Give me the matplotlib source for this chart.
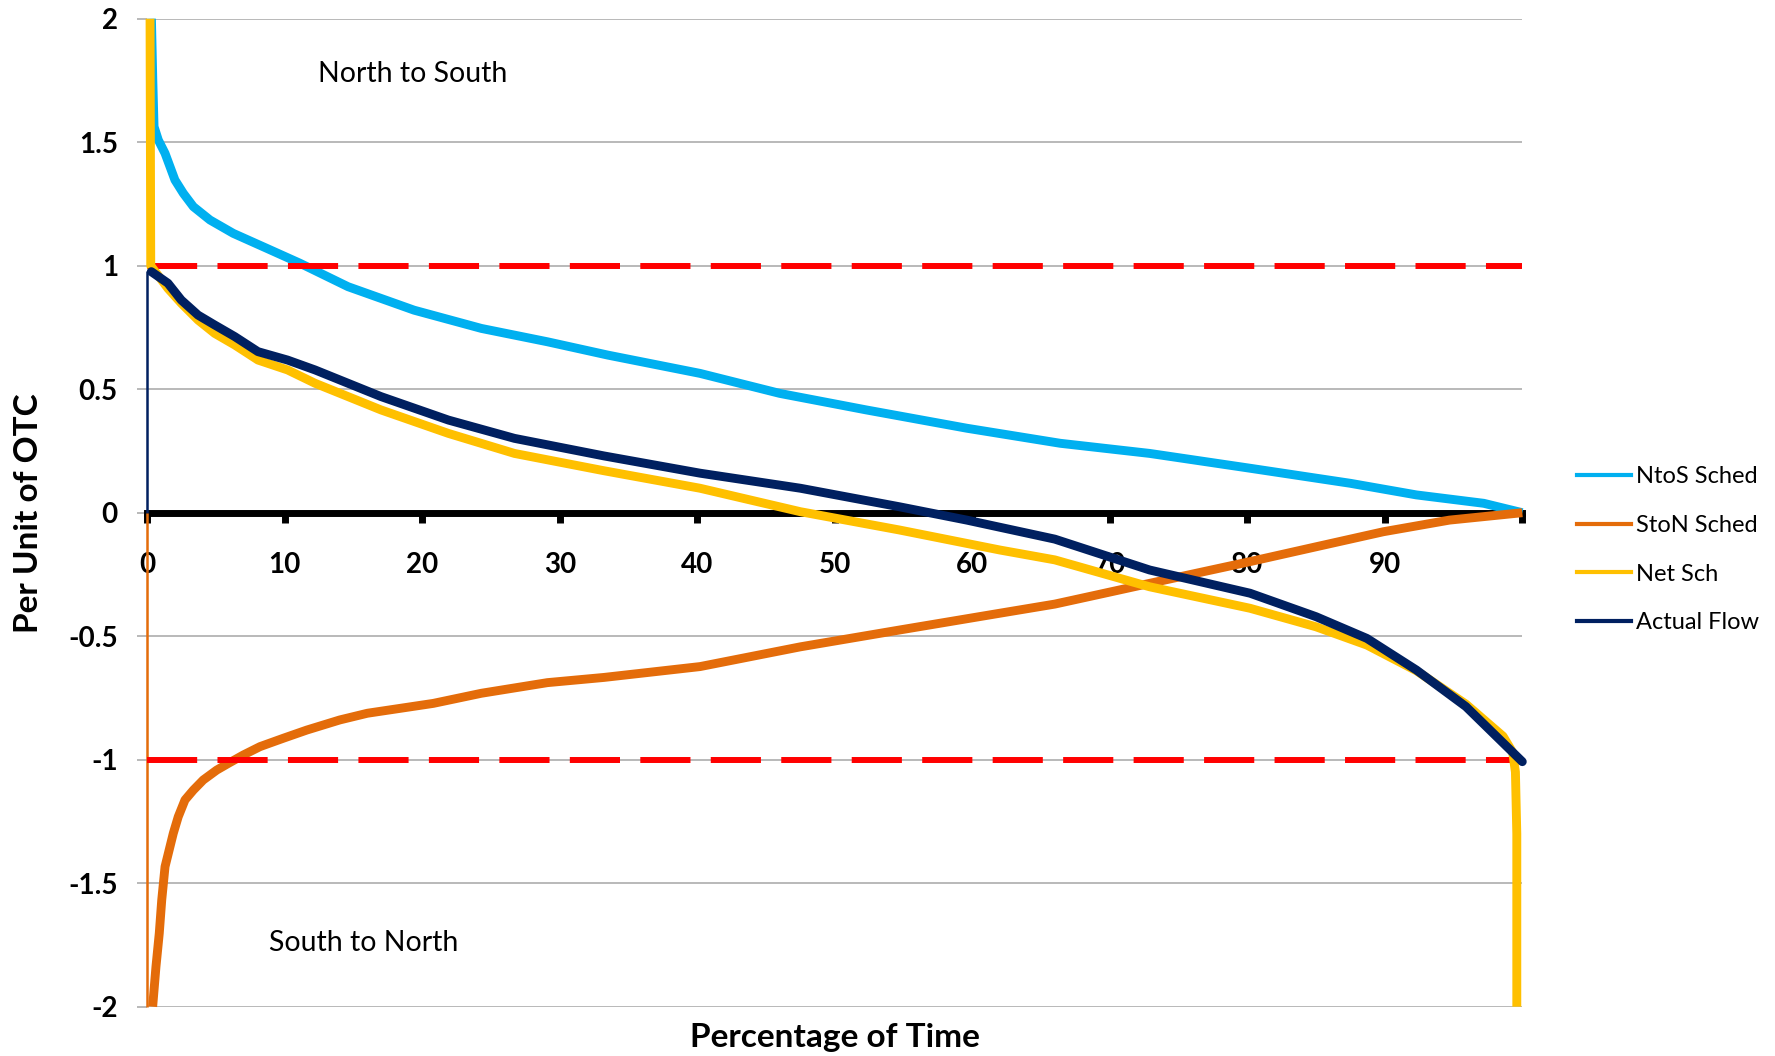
import matplotlib
matplotlib.use("Agg")
import matplotlib.pyplot as plt
from matplotlib.lines import Line2D

plt.rcParams['font.family'] = ['Lato', 'DejaVu Sans']
plt.rcParams['axes.unicode_minus'] = False

# Duration curves: per-unit flow versus percentage of time exceeded
pct_ntos = [0.3, 0.4, 0.49, 0.8, 1.29, 1.65, 2.01, 2.62, 3.35, 4.56, 6.25, 8.7, 11.1,
            14.6, 19.4, 24.3, 29.1, 33.5, 40.2, 46.0, 52.3, 59.6, 66.4, 72.9, 80.2,
            87.5, 92.3, 97.2, 100.0]
ntos_sched = [2.00, 1.75, 1.563, 1.509, 1.455, 1.401, 1.347, 1.293, 1.239, 1.185,
              1.131, 1.07, 1.01, 0.915, 0.82, 0.746, 0.692, 0.638, 0.564, 0.483,
              0.416, 0.342, 0.281, 0.24, 0.18, 0.119, 0.072, 0.038, 0.0]

pct_ston = [0.39, 0.63, 0.87, 1.05, 1.29, 1.65, 1.89, 2.25, 2.74, 3.35, 4.07, 5.05,
            5.89, 6.98, 8.2, 9.9, 11.6, 14.0, 16.0, 20.8, 24.3, 29.1, 33.2, 40.2,
            47.5, 54.7, 62.0, 66.0, 72.9, 80.2, 85.0, 89.9, 94.7, 100.0]
ston_sched = [-2.0, -1.838, -1.703, -1.568, -1.433, -1.352, -1.298, -1.231, -1.163,
              -1.123, -1.082, -1.042, -1.015, -0.981, -0.947, -0.913, -0.88, -0.839,
              -0.812, -0.772, -0.731, -0.688, -0.667, -0.623, -0.543, -0.475, -0.407,
              -0.37, -0.286, -0.198, -0.138, -0.077, -0.03, 0.0]

pct_net = [0.2, 0.25, 1.5, 2.47, 3.69, 4.9, 6.36, 8.05, 10.2, 12.2, 17.0, 21.9, 26.7,
           33.2, 40.2, 47.5, 54.7, 62.0, 66.0, 72.9, 80.2, 85.0, 88.7, 92.3, 95.9,
           98.6, 99.3, 99.5, 99.6, 99.6]
net_sch = [2.0, 1.0, 0.908, 0.848, 0.78, 0.726, 0.679, 0.618, 0.578, 0.524, 0.416,
           0.321, 0.24, 0.17, 0.099, 0.004, -0.07, -0.151, -0.191, -0.30, -0.387,
           -0.462, -0.536, -0.64, -0.775, -0.905, -0.97, -1.05, -1.3, -2.0]

pct_actual = [0.0, 0.29, 1.5, 2.47, 3.69, 4.9, 6.36, 8.05, 10.2, 12.2, 17.0, 21.9,
              26.7, 33.2, 40.2, 47.5, 54.7, 59.6, 66.0, 72.9, 80.2, 85.0, 88.7,
              92.3, 95.9, 100.0]
actual_flow = [0.98, 0.976, 0.929, 0.861, 0.80, 0.76, 0.713, 0.652, 0.618, 0.578,
               0.47, 0.375, 0.301, 0.23, 0.16, 0.099, 0.024, -0.03, -0.107, -0.232,
               -0.326, -0.421, -0.509, -0.637, -0.785, -1.008]

limits = [1.0, -1.0]

series_names = ['NtoS Sched', 'StoN Sched', 'Net Sch', 'Actual Flow']
series_colors = ['#00B0F0', '#E46C0A', '#FFC000', '#002060']

x_ticks = [0, 10, 20, 30, 40, 50, 60, 70, 80, 90, 100]
x_tick_labels = ['0', '10', '20', '30', '40', '50', '60', '70', '80', '90', '']
y_ticks = [2, 1.5, 1, 0.5, 0, -0.5, -1, -1.5, -2]
y_tick_labels = ['2', '1.5', '1', '0.5', '0', '-0.5', '-1', '-1.5', '-2']

W, H = 1775, 1056
fig = plt.figure(figsize=(W / 100, H / 100), dpi=100)
ax = fig.add_axes([147.3 / W, 49.3 / H, 1375 / W, 988 / H])

lw = 6.4
# thin connectors at the start of the curves
ax.vlines(pct_actual[0], 0, actual_flow[0], color=series_colors[3], lw=1.8, zorder=3, clip_on=False)
ax.vlines(pct_actual[0], min(ston_sched), 0, color=series_colors[1], lw=1.8, zorder=3, clip_on=False)

style = dict(lw=lw, solid_joinstyle='round', solid_capstyle='butt', clip_on=False)
ax.plot(pct_ntos, ntos_sched, color=series_colors[0], zorder=3, **style)
ax.plot(pct_ston, ston_sched, color=series_colors[1], zorder=3, **style)
ax.hlines(limits, 0, 100, colors='#FF0000', lw=4.3, linestyles=[(0, (8.4, 3.4))], zorder=4)
ax.plot(pct_net, net_sch, color=series_colors[2], zorder=5, **style)
ax.plot(pct_actual[1:], actual_flow[1:], color=series_colors[3], zorder=6,
        lw=lw, solid_joinstyle='round', solid_capstyle='round', clip_on=False)

ax.set_xlim(0, 100)
ax.set_ylim(-2, 2)

for s in ('top', 'right', 'left'):
    ax.spines[s].set_visible(False)
ax.spines['bottom'].set_position(('data', 0))
ax.spines['bottom'].set_linewidth(5)
ax.spines['bottom'].set_color('black')
ax.spines['bottom'].set_zorder(2.5)

ax.set_xticks(x_ticks)
ax.set_xticklabels(x_tick_labels, fontsize=20, fontweight='bold')
ax.tick_params(axis='x', direction='out', length=7, width=5, color='black', pad=21)

ax.set_yticks(y_ticks)
ax.set_yticklabels(y_tick_labels, fontsize=20, fontweight='bold')
ax.tick_params(axis='y', direction='out', length=7.2, width=1.1, color='#A6A6A6', pad=14)

ax.yaxis.grid(True, color='#A6A6A6', lw=1.1)
ax.set_axisbelow(True)

ax.set_xlabel('Percentage of Time', fontsize=24, fontweight='bold', va='center')
ax.xaxis.set_label_coords(0.5, (1006.7 - 1037) / 988)
ax.set_ylabel('Per Unit of OTC', fontsize=24, fontweight='bold', va='center')
ax.yaxis.set_label_coords((29 - 147.3) / 1375, 0.5)

ax.text(12.4, 1.776, 'North to South', fontsize=20.5, ha='left', va='center')
ax.text(8.85, -1.741, 'South to North', fontsize=20.5, ha='left', va='center')

handles = [Line2D([], [], color=c, lw=3) for c in series_colors]
fig.legend(handles, series_names, loc='center left', bbox_to_anchor=(1577 / W, 1 - 549.7 / H),
           frameon=False, fontsize=17, handlelength=2.3, handletextpad=0.2,
           labelspacing=1.17, borderpad=0, borderaxespad=0)

fig.savefig('out.png', dpi=100)
